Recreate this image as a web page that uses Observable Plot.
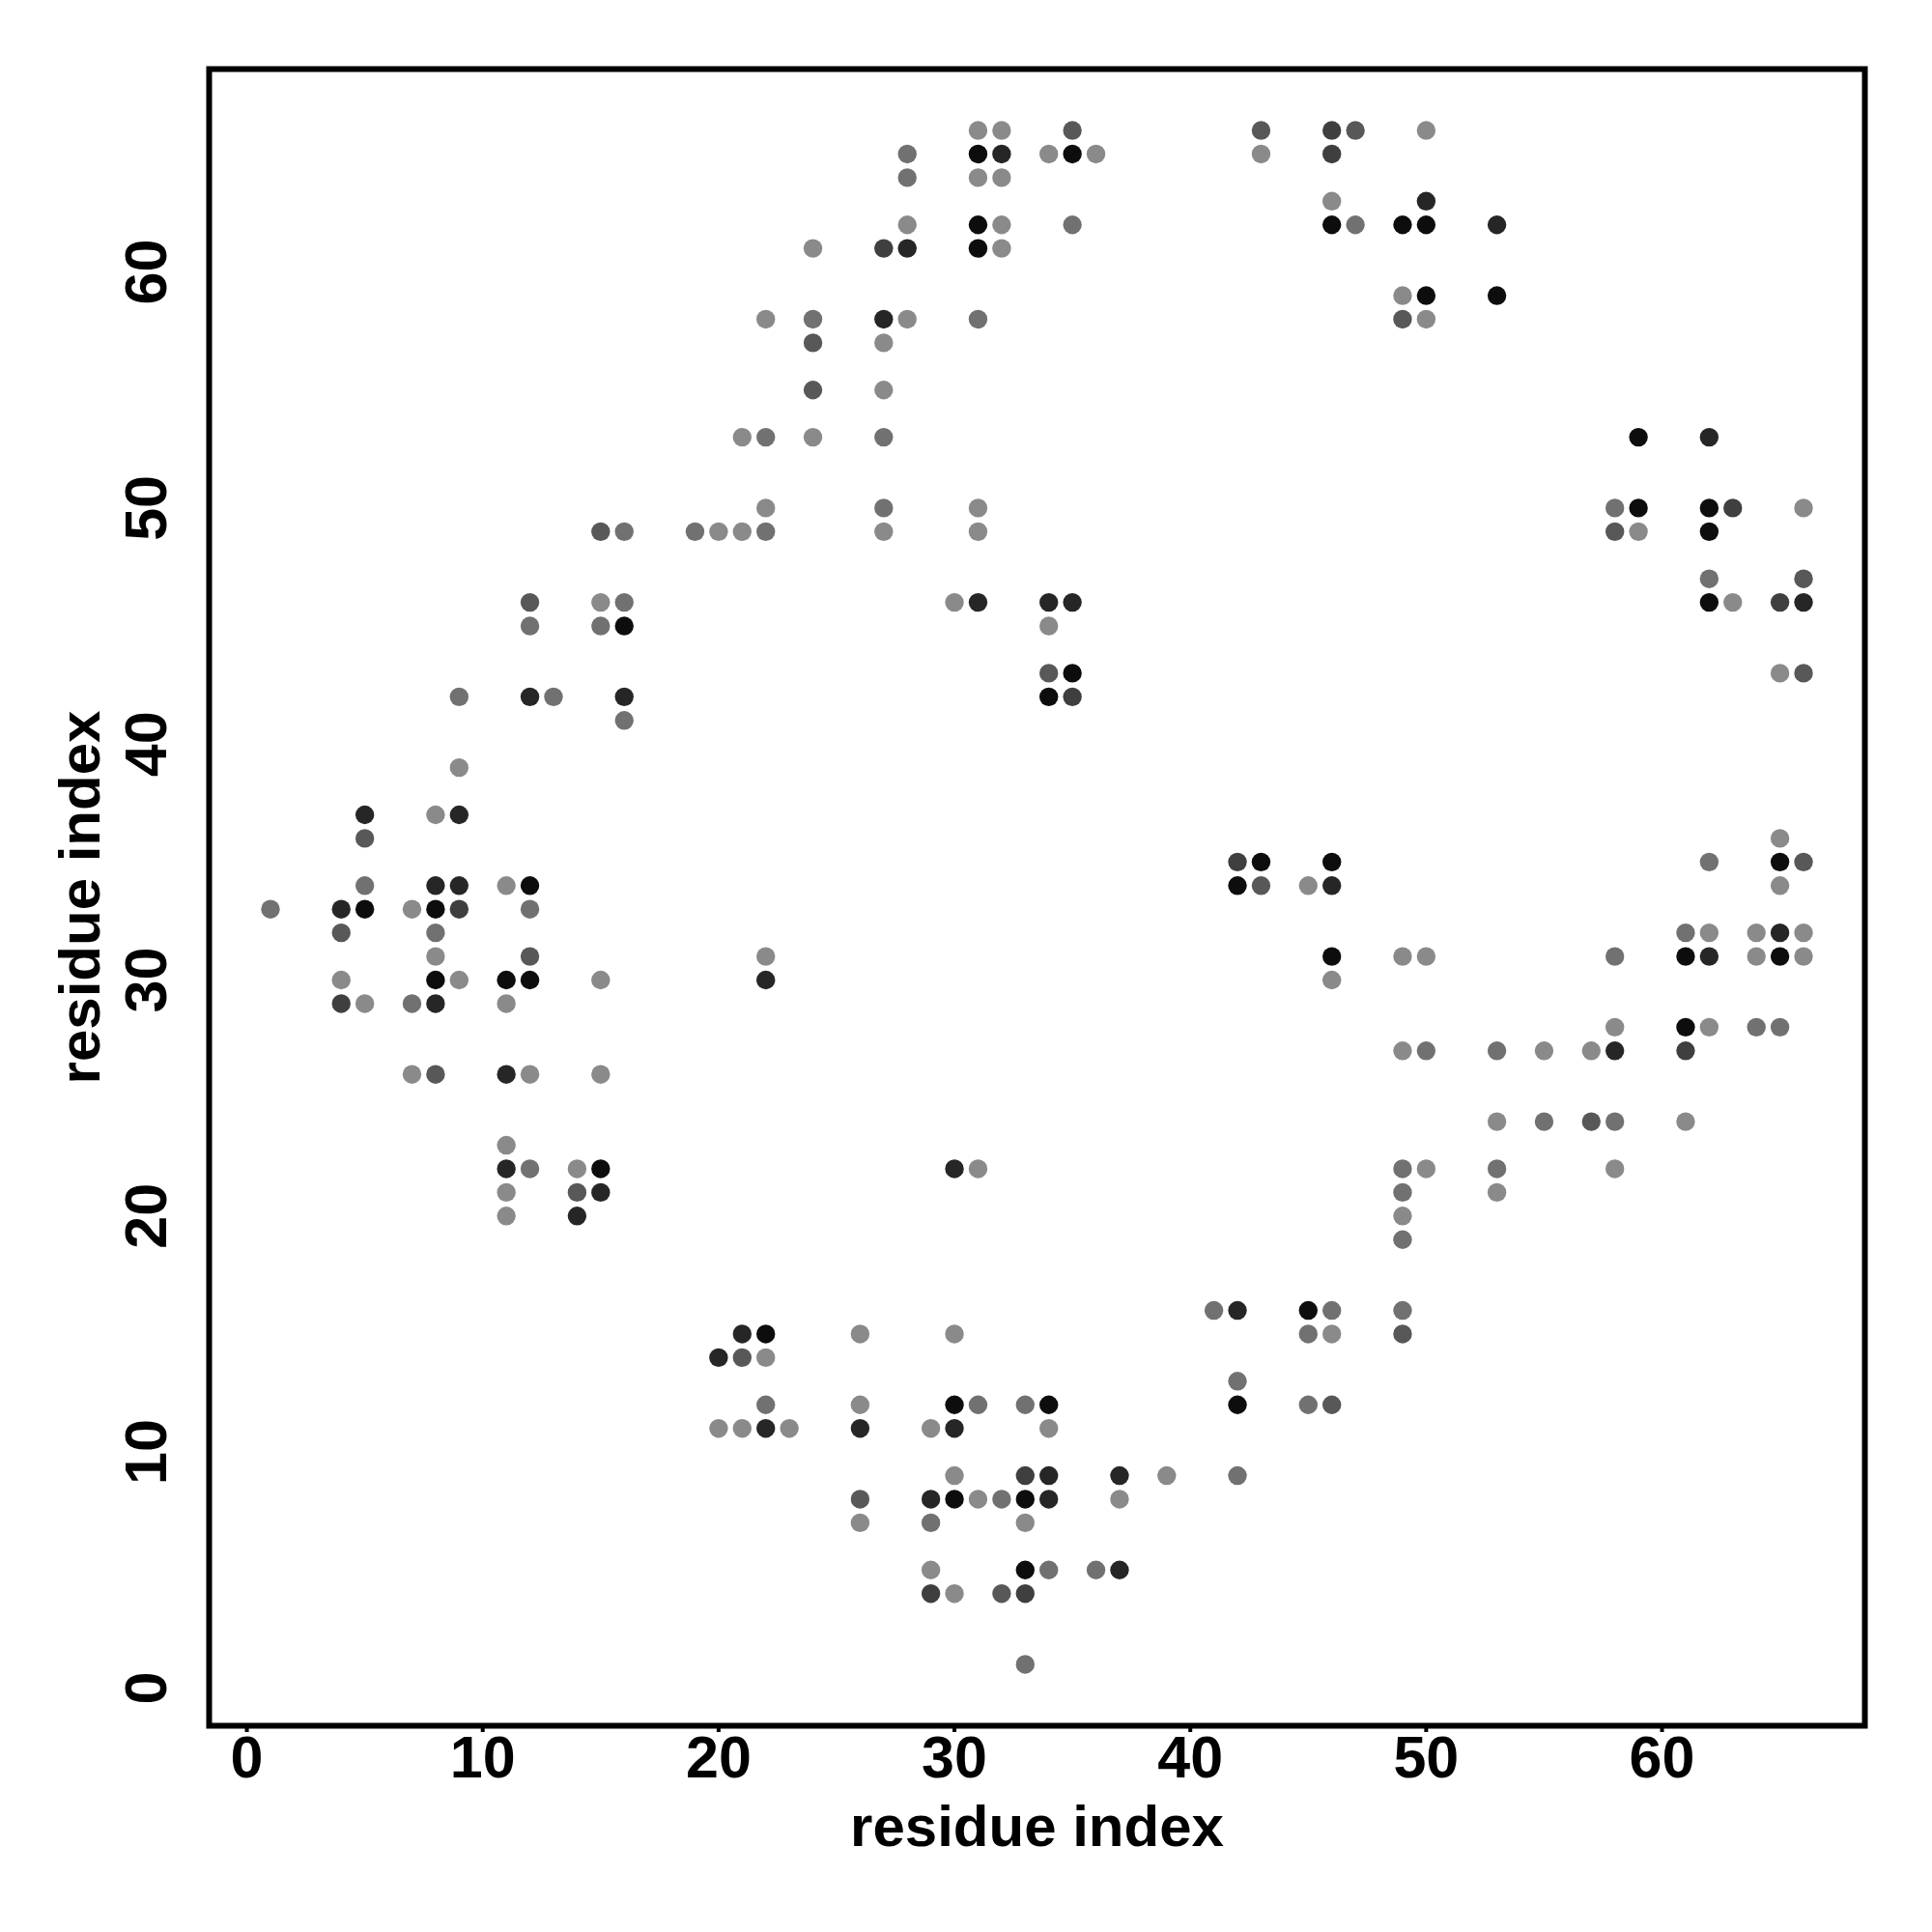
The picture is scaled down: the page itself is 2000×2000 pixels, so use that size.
<!DOCTYPE html>
<html>
<head>
<meta charset="utf-8">
<script src="https://cdn.jsdelivr.net/npm/d3@7"></script>
<script src="https://cdn.jsdelivr.net/npm/@observablehq/plot@0.6"></script>
<style>
  html, body { margin: 0; padding: 0; background: #fff; }
  #chart { width: 2000px; height: 2000px; }
</style>
</head>
<body>
<div id="chart"></div>
<script>
// residue i (x), residue j (y), contact strength (1 = weak/light grey ... 6 = strong/black)
const resI = [
  1,
  4,4,4,4,
  5,5,5,5,5,
  7,7,7,
  8,8,8,8,8,8,8,8,
  9,9,9,9,9,9,
  11,11,11,11,11,11,11,11,
  12,12,12,12,12,12,12,12,12,
  13,
  14,14,14,
  15,15,15,15,15,15,15,
  16,16,16,16,16,
  19,
  20,20,20,
  21,21,21,21,21,
  22,22,22,22,22,22,22,22,22,22,
  23,
  24,24,24,24,24,
  26,26,26,26,26,
  27,27,27,27,27,27,27,
  28,28,28,28,28,
  29,29,29,29,29,
  30,30,30,30,30,30,30,30,
  31,31,31,31,31,31,31,31,31,31,31,31,
  32,32,32,32,32,32,32,
  33,33,33,33,33,33,33,
  34,34,34,34,34,34,34,34,34,34,
  35,35,35,35,35,35,
  36,36,
  37,37,37,
  39,
  41,
  42,42,42,42,42,42,
  43,43,43,43,
  45,45,45,45,
  46,46,46,46,46,46,46,46,46,46,46,
  47,47,
  49,49,49,49,49,49,49,49,49,49,49,
  50,50,50,50,50,50,50,50,
  53,53,53,53,53,53,
  55,55,
  57,57,
  58,58,58,58,58,58,58,
  59,59,59,
  61,61,61,61,61,
  62,62,62,62,62,62,62,62,62,
  63,63,
  64,64,64,
  65,65,65,65,65,65,65,65,
  66,66,66,66,66,66,66
];
const resJ = [
  33,
  33,32,30,29,
  37,36,34,33,29,
  33,29,26,
  37,34,33,32,31,30,29,26,
  42,39,37,34,33,30,
  34,30,29,26,23,22,21,20,
  46,45,42,34,33,31,30,26,22,
  42,
  22,21,20,
  49,46,45,30,26,22,21,
  49,46,45,42,41,
  49,
  49,14,11,
  53,49,15,14,11,
  58,53,50,49,31,30,15,14,12,11,
  11,
  61,58,57,55,53,
  15,12,11,8,7,
  61,58,57,55,53,50,49,
  65,64,62,61,58,
  11,8,7,5,4,
  46,22,15,12,11,9,8,4,
  66,65,64,62,61,58,50,49,46,22,12,8,
  66,65,64,62,61,8,4,
  12,9,8,7,5,4,1,
  65,46,45,43,42,12,11,9,8,5,
  66,65,62,46,43,42,
  65,5,
  9,8,5,
  9,
  16,
  35,34,16,13,12,9,
  66,65,35,34,
  34,16,15,12,
  66,65,63,62,35,34,31,30,16,15,12,
  66,62,
  62,59,58,31,27,22,21,20,19,16,15,
  66,63,62,59,58,31,27,22,
  62,59,27,24,22,21,
  27,24,
  27,24,
  50,49,31,28,27,24,22,
  53,50,49,
  32,31,28,27,24,
  53,50,49,47,46,35,32,31,28,
  50,46,
  32,31,28,
  46,43,36,35,34,32,31,28,
  50,47,46,43,35,32,31
];
const strength = [
  2,
  5,3,1,4,
  5,3,2,6,1,
  1,2,1,
  1,5,6,2,1,6,5,3,
  2,1,5,5,4,1,
  1,6,1,5,1,5,1,1,
  3,2,5,6,2,3,6,1,2,
  2,
  1,3,5,
  3,1,2,1,1,6,5,
  2,2,6,5,2,
  2,
  1,5,1,
  1,1,5,3,1,
  1,2,1,2,1,5,6,1,2,5,
  1,
  1,2,3,3,1,
  1,1,5,3,1,
  4,5,1,1,2,2,1,
  2,2,1,5,1,
  1,5,2,1,4,
  1,5,1,6,5,1,6,1,
  1,6,1,6,6,2,1,1,5,1,2,1,
  1,5,1,1,1,2,3,
  2,4,6,1,6,4,2,
  1,5,1,3,6,6,1,5,5,2,
  3,6,2,5,6,4,
  1,2,
  5,1,5,
  1,
  2,
  4,6,5,2,6,2,
  3,1,6,3,
  1,6,2,2,
  4,4,1,6,6,5,6,1,2,1,3,
  3,2,
  6,1,3,1,1,2,2,1,2,2,3,
  1,5,6,6,1,1,2,1,
  5,6,2,1,2,1,
  1,2,
  1,3,
  2,3,2,1,5,2,1,
  6,6,1,
  2,6,6,4,1,
  5,6,6,2,6,2,1,5,1,
  4,1,
  1,1,2,
  4,1,1,6,1,5,6,2,
  1,3,5,3,3,1,1
];
const tickValues = [0, 10, 20, 30, 40, 50, 60];
const axisTitleX = "residue index";
const axisTitleY = "residue index";

const contacts = resI.map((x, k) => ({i: x, j: resJ[k], s: strength[k]}));

// R-style 4% axis extension
function padDomain(vals) {
  const [lo, hi] = d3.extent(vals);
  const p = (hi - lo) * 0.04;
  return [lo - p, hi + p];
}

const FONT = "'Liberation Sans', Arial, Helvetica, sans-serif";

const chart = Plot.plot({
  width: 2000,
  height: 2000,
  marginLeft: 216,
  marginTop: 71,
  marginRight: 70,
  marginBottom: 214,
  style: {fontFamily: FONT, background: "#fff", color: "#000"},
  x: {domain: padDomain(resI), nice: false, label: null},
  y: {domain: padDomain(resJ), nice: false, label: null},
  color: {type: "linear", domain: [1, 6], range: ["#8a8a8a", "#0d0d0d"], interpolate: "rgb"},
  marks: [
    Plot.dot(contacts, {x: "i", y: "j", fill: "s", r: 9.7, stroke: null}),
    Plot.frame({stroke: "#000", strokeWidth: 6}),
    Plot.axisX({
      ticks: tickValues, tickSize: 7, tickPadding: 3, strokeWidth: 4,
      fontSize: 61, fontWeight: "bold", label: null, tickFormat: d3.format("d")
    }),
    Plot.axisY({
      ticks: tickValues, tickSize: 7, tickPadding: 38, strokeWidth: 4,
      fontSize: 61, fontWeight: "bold", label: null, tickFormat: d3.format("d"),
      rotate: -90, textAnchor: "middle", lineAnchor: "bottom"
    }),
    Plot.text([axisTitleX], {
      text: d => d, frameAnchor: "bottom", dy: 124, lineAnchor: "bottom",
      textAnchor: "middle", fontSize: 60, fontWeight: "bold", fill: "#000"
    }),
    Plot.text([axisTitleY], {
      text: d => d, frameAnchor: "left", dx: -114, rotate: -90, lineAnchor: "bottom",
      textAnchor: "middle", fontSize: 60, fontWeight: "bold", fill: "#000"
    })
  ]
});

document.getElementById("chart").appendChild(chart);
</script>
</body>
</html>
